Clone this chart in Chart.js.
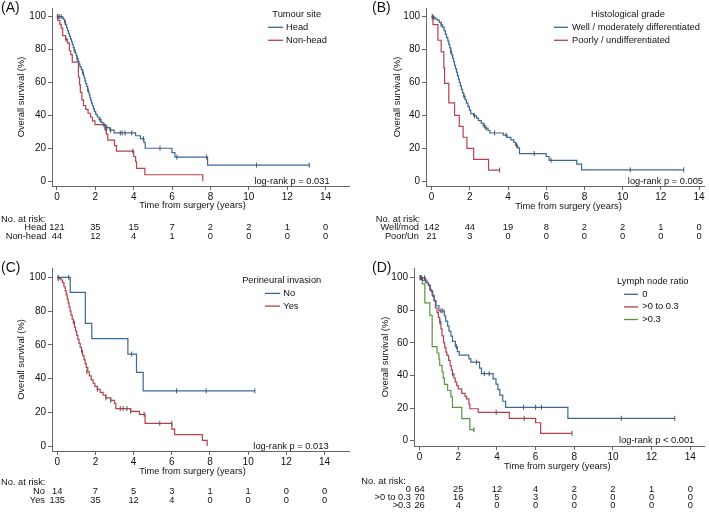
<!DOCTYPE html>
<html>
<head>
<meta charset="utf-8">
<script src="https://cdn.jsdelivr.net/npm/chart.js@4"></script>
<style>
  body { margin: 0; background: #fff; }
  #wrap { position: relative; width: 709px; height: 514px; }
  canvas { position: absolute; }
</style>
</head>
<body>
<div id="wrap">
  <canvas id="pA" width="354" height="255" style="left:0;top:0"></canvas>
  <canvas id="pB" width="355" height="255" style="left:354px;top:0"></canvas>
  <canvas id="pC" width="354" height="259" style="left:0;top:255px"></canvas>
  <canvas id="pD" width="355" height="259" style="left:354px;top:255px"></canvas>
</div>
<script>
// shared axis values
const years = [0, 2, 4, 6, 8, 10, 12, 14];
const survTicks = [0, 20, 40, 60, 80, 100];

// (A) tumour site
const aGroups = ['Head', 'Non-head'];
const aRiskLabels = ['Head', 'Non-head'];
const aHead = [[0,100],[0.3,99.2],[0.35,98.3],[0.4,96.7],[0.45,95],[0.5,93.3],[0.55,91.6],[0.6,89.9],[0.65,88.2],[0.7,86.5],[0.75,84.8],[0.8,83.1],[0.85,81.4],[0.9,79.7],[0.95,78],[1.0,76.3],[1.05,74.6],[1.1,72.9],[1.15,71.2],[1.2,69.5],[1.27,67.8],[1.33,66.1],[1.38,64.4],[1.42,62.7],[1.46,61],[1.5,59.3],[1.55,57.6],[1.6,55.9],[1.64,54.2],[1.68,52.5],[1.72,50.8],[1.76,49.1],[1.8,47.4],[1.85,45.7],[1.9,44],[1.95,42.3],[2.02,40.6],[2.1,39],[2.2,37.4],[2.3,35.8],[2.4,34.2],[2.55,32.6],[2.75,31],[2.98,29.3],[4.1,27.6],[4.35,25.9],[4.53,23.5],[4.6,20],[5.99,17.3],[6.15,14.6],[7.85,9.7],[13.15,9.7]];
const aHeadCens = [[0.05,100],[0.12,100],[0.22,100],[0.42,96.7],[0.9,79.7],[1.05,74.6],[1.35,66.1],[1.6,55.9],[2.25,37.4],[2.45,34.2],[2.6,32.6],[2.8,31],[3.3,29.3],[3.4,29.3],[3.55,29.3],[3.9,29.3],[4.5,25.9],[5.37,20],[6.25,14.6],[7.8,14.6],[10.4,9.7],[13.15,9.7]];
const aNonHead = [[0,100],[0.05,97.7],[0.15,95.4],[0.22,93.1],[0.3,88.5],[0.45,86.2],[0.55,83.9],[0.65,79.3],[0.72,77],[0.8,72.4],[1.12,63.2],[1.18,58.6],[1.22,54],[1.3,49.4],[1.38,45.9],[1.5,43.6],[1.62,41.3],[1.75,39],[1.85,36.7],[1.98,34.4],[2.5,31.5],[2.57,28.6],[2.65,24.9],[3.0,21.6],[3.1,18.3],[4.0,15],[4.1,11.8],[4.15,7.8],[4.58,3.9],[7.6,0]];
const aNonHeadCens = [[0.02,100],[0.47,86.2],[2.55,31.5],[3.95,18.3]];
const aRiskHead = [121, 35, 15, 7, 2, 2, 1, 0];
const aRiskNonHead = [44, 12, 4, 1, 0, 0, 0, 0];

// (B) histological grade
const bGroups = ['Well / moderately differentiated', 'Poorly / undifferentiated'];
const bRiskLabels = ['Well/mod', 'Poor/Un'];
const bWell = [[0,100],[0.1,99.3],[0.2,98.6],[0.3,97.9],[0.4,96.5],[0.5,95.1],[0.58,93.7],[0.65,91.5],[0.72,89.4],[0.78,87.3],[0.85,85.2],[0.9,83.1],[0.95,81],[1.0,78.9],[1.05,76.8],[1.1,74.7],[1.15,72.6],[1.2,70.5],[1.25,68.4],[1.3,66.3],[1.35,64.2],[1.4,62.1],[1.45,60],[1.5,57.9],[1.56,55.8],[1.62,53.7],[1.68,51.6],[1.75,49.5],[1.82,47.4],[1.9,45.3],[1.98,43.2],[2.05,41.1],[2.2,39.7],[2.35,38.3],[2.45,36.8],[2.6,35.3],[2.7,33.8],[2.8,32.3],[2.95,30.8],[3.05,29.3],[3.75,28],[3.95,26.6],[4.15,25.1],[4.3,23.6],[4.4,21.8],[4.5,20.2],[4.6,16.8],[6.0,15],[6.15,12.7],[7.6,10.4],[7.85,6.9],[13.2,6.9]];
const bWellCens = [[0.05,100],[0.12,99.3],[0.5,95.1],[1.0,78.9],[1.7,51.6],[2.25,39.7],[2.75,33.8],[2.85,32.3],[3.3,29.3],[3.9,28],[4.45,21.8],[5.37,16.8],[6.25,12.7],[10.4,6.9],[13.2,6.9]];
const bPoor = [[0,100],[0.07,95.2],[0.33,85.7],[0.5,78.6],[0.64,69],[0.68,59.5],[0.9,47.6],[1.2,40],[1.45,33.3],[1.65,26.7],[1.85,20],[2.2,13.3],[2.98,6.7],[3.56,6.7]];
const bPoorCens = [[0.03,100],[3.56,6.7]];
const bRiskWell = [142, 44, 19, 8, 2, 2, 1, 0];
const bRiskPoor = [21, 3, 0, 0, 0, 0, 0, 0];

// (C) perineural invasion
const cGroups = ['No', 'Yes'];
const cRiskLabels = ['No', 'Yes'];
const cNo = [[0,100],[0.68,91],[1.47,72.7],[1.81,63.6],[3.7,54.5],[4.15,43.6],[4.5,32.7],[10.35,32.7]];
const cNoCens = [[0.05,100],[0.6,100],[3.9,54.5],[6.25,32.7],[7.8,32.7],[10.35,32.7]];
const cYes = [[0,100],[0.1,99.2],[0.2,98.4],[0.28,96.8],[0.35,94.4],[0.42,92],[0.47,89.6],[0.52,87.2],[0.57,84.8],[0.62,82.4],[0.67,80],[0.72,77.6],[0.78,75.2],[0.84,72.8],[0.9,70.4],[0.96,68],[1.02,65.6],[1.08,63.2],[1.14,60.8],[1.2,58.4],[1.27,56],[1.33,53.6],[1.4,51.2],[1.46,48.8],[1.52,46.4],[1.6,44],[1.68,41.6],[1.78,39.2],[1.88,37.2],[1.97,35.4],[2.1,33.6],[2.25,31.8],[2.4,30.2],[2.55,28.5],[2.8,27],[3.0,25.2],[3.07,22.2],[3.85,20.5],[4.3,18.8],[4.6,13.4],[6.0,10],[6.15,6.7],[7.6,3.3],[7.85,0]];
const cYesCens = [[0.05,99.2],[0.9,72.8],[1.3,56],[1.55,44],[2.1,33.6],[2.55,28.5],[2.8,27],[3.3,22.2],[3.45,22.2],[3.65,22.2],[3.85,20.5],[4.55,18.8],[5.37,13.4],[6.0,13.4]];
const cRiskNo = [14, 7, 5, 3, 1, 1, 0, 0];
const cRiskYes = [135, 35, 12, 4, 0, 0, 0, 0];

// (D) lymph node ratio
const dGroups = ['0', '>0 to 0.3', '>0.3'];
const dRiskLabels = ['0', '>0 to 0.3', '>0.3'];
const dZero = [[0,100],[0.15,98.4],[0.3,96.9],[0.45,95.3],[0.55,92.2],[0.65,89.1],[0.75,85.9],[0.85,82.8],[1.0,79.7],[1.28,76.6],[1.35,73.4],[1.45,70.3],[1.52,67.2],[1.62,64.1],[1.7,60.9],[1.85,57.8],[1.95,54.7],[2.05,52.5],[2.55,50.2],[2.65,48.2],[3.1,44.5],[3.2,41.1],[3.8,37.9],[3.95,34.7],[4.05,31.5],[4.15,27.9],[4.3,24.2],[4.45,20.5],[7.67,13.7],[13.2,13.7]];
const dZeroCens = [[0.02,100],[0.1,100],[1.1,79.7],[1.2,79.7],[1.9,57.8],[2.95,48.2],[3.35,41.1],[3.6,41.1],[5.38,20.5],[6.0,20.5],[6.3,20.5],[10.43,13.7],[13.2,13.7]];
const dMid = [[0,100],[0.3,98.6],[0.38,97.1],[0.45,95.7],[0.52,92.9],[0.6,91.4],[0.68,88.6],[0.75,85.7],[0.82,81.4],[0.9,78.6],[0.97,75.7],[1.04,72.9],[1.1,68.6],[1.16,64.3],[1.24,60],[1.3,57.1],[1.36,54.3],[1.41,52.3],[1.5,49.3],[1.58,46.1],[1.64,43.4],[1.7,41],[1.78,38.4],[1.84,35.9],[1.92,33.8],[2.0,31.8],[2.18,29],[2.35,27.2],[2.43,25.6],[2.55,22.5],[2.6,19.6],[3.03,17.4],[4.64,13.7],[6.0,11],[6.26,4.5],[7.88,4.5]];
const dMidCens = [[0.05,100],[0.25,100],[1.05,72.9],[1.7,41],[3.96,17.4],[5.41,13.7],[7.88,4.5]];
const dHigh = [[0,100],[0.14,96.2],[0.27,84.6],[0.53,76.9],[0.65,57.7],[0.9,53.8],[1.0,50],[1.04,46.2],[1.16,42.3],[1.22,38.5],[1.28,34.6],[1.45,30.8],[1.62,26.9],[1.7,20.5],[2.18,13.5],[2.6,6.8],[2.81,6.8]];
const dHighCens = [[0.05,100],[2.81,6.8]];
const dRiskZero = [64, 25, 12, 4, 2, 2, 1, 0];
const dRiskMid = [70, 16, 5, 3, 0, 0, 0, 0];
const dRiskHigh = [26, 4, 0, 0, 0, 0, 0, 0];

const BLUE = '#3a6898', RED = '#b8404a', GREEN = '#5e9440';
const FONT = '"Liberation Sans", Arial, sans-serif';
const TXT = '9.3px ' + FONT;
Chart.defaults.font.family = FONT;
Chart.defaults.color = '#111';

const overlay = {
  id: 'overlay',
  afterDraw(chart, args, o) {
    const ctx = chart.ctx, xs = chart.scales.x, ys = chart.scales.y;
    ctx.save();
    ctx.fillStyle = '#111';
    ctx.textBaseline = 'middle';
    ctx.font = '14px ' + FONT;
    ctx.textAlign = 'left';
    ctx.fillText(o.letter, o.letterPos[0], o.letterPos[1]);

    ctx.font = TXT;
    // x axis title
    ctx.textAlign = 'center';
    ctx.fillText('Time from surgery (years)', o.xTitle[0], o.xTitle[1]);

    ctx.textAlign = 'right';
    ctx.fillText(o.logrank, xs.getPixelForValue(14) + 4, ys.getPixelForValue(0));

    // legend
    ctx.textAlign = 'center';
    ctx.fillText(o.legTitle, o.leg.cx, o.leg.y);
    o.names.forEach((n, i) => {
      const y = o.leg.y + o.leg.step * (i + 1);
      ctx.strokeStyle = o.colors[i];
      ctx.lineWidth = 1.3;
      ctx.beginPath();
      ctx.moveTo(o.leg.x0, y); ctx.lineTo(o.leg.x1, y);
      ctx.stroke();
      ctx.textAlign = 'left';
      ctx.fillText(n, o.leg.tx, y);
    });

    // risk table
    ctx.textAlign = 'left';
    ctx.fillText('No. at risk:', o.risk.x, o.risk.y);
    o.risk.rows.forEach((row, i) => {
      const y = o.risk.y + o.risk.step * (i + 1);
      ctx.textAlign = 'right';
      ctx.fillText(o.risk.labels[i], o.risk.labelRight, y);
      ctx.textAlign = 'center';
      row.forEach((v, j) => ctx.fillText(String(v), xs.getPixelForValue(years[j]), y));
    });
    ctx.restore();
  }
};

function pts(a) { return a.map(p => ({ x: p[0], y: p[1] })); }

function panel(id, g, curves, plug) {
  const datasets = [];
  curves.forEach(c => {
    datasets.push({ data: pts(c.data), borderColor: c.color, borderWidth: 1.2, stepped: 'before', pointRadius: 0, fill: false, order: 1 });
    datasets.push({ data: pts(c.cens), showLine: false, pointStyle: 'line', rotation: 90, pointRadius: 2.5, borderColor: '#555', borderWidth: 1, order: 0 });
  });
  plug.names = curves.map(c => c.name);
  plug.colors = curves.map(c => c.color);
  return new Chart(document.getElementById(id), {
    type: 'line',
    data: { datasets },
    plugins: [overlay],
    options: {
      responsive: false,
      animation: false,
      events: [],
      layout: { padding: g.pad },
      plugins: { legend: { display: false }, tooltip: { enabled: false }, overlay: plug },
      scales: {
        x: {
          type: 'linear', min: g.x[0], max: g.x[1],
          afterBuildTicks: s => { s.ticks = years.map(v => ({ value: v })); },
          afterFit: s => { s.height = g.xh; },
          border: { display: true, color: '#666', width: 1 },
          grid: { display: true, drawOnChartArea: false, drawTicks: true, tickLength: 4, color: '#666' },
          ticks: { font: { size: 10 }, padding: 1, maxRotation: 0, autoSkip: false, color: '#111' },
          title: { display: false }
        },
        y: {
          min: g.y[0], max: g.y[1],
          afterBuildTicks: s => { s.ticks = survTicks.map(v => ({ value: v })); },
          afterFit: s => { s.width = g.yw; },
          border: { display: true, color: '#666', width: 1 },
          grid: { display: true, drawOnChartArea: false, drawTicks: true, tickLength: 4, color: '#666' },
          ticks: { font: { size: 10 }, padding: 2, autoSkip: false, color: '#111' },
          title: { display: true, text: 'Overall survival (%)', font: { size: 9.3 }, padding: { top: g.ytp, bottom: 0 }, color: '#111' }
        }
      }
    }
  });
}

panel('pA',
  { pad: { top: 2, right: 2, bottom: 44, left: 0 }, x: [-0.258, 15.22], y: [-2.95, 105.3], yw: 52, xh: 25, ytp: 16 },
  [{ name: aGroups[0], data: aHead, cens: aHeadCens, color: BLUE },
   { name: aGroups[1], data: aNonHead, cens: aNonHeadCens, color: RED }],
  { letter: '(A)', letterPos: [1, 8], xTitle: [192.5, 205], logrank: 'log-rank p = 0.031', legTitle: 'Tumour site',
    leg: { cx: 296.7, y: 14.3, step: 13, x0: 268, x1: 283, tx: 286 },
    risk: { x: 1, y: 219, step: 8.5, labelRight: 46.5, labels: aRiskLabels, rows: [aRiskHead, aRiskNonHead] } });

panel('pB',
  { pad: { top: 2, right: 1, bottom: 43, left: 0 }, x: [-0.294, 14.26], y: [-2.94, 105.3], yw: 72, xh: 26, ytp: 37.6 },
  [{ name: bGroups[0], data: bWell, cens: bWellCens, color: BLUE },
   { name: bGroups[1], data: bPoor, cens: bPoorCens, color: RED }],
  { letter: '(B)', letterPos: [18, 8], xTitle: [214.5, 206], logrank: 'log-rank p = 0.005', legTitle: 'Histological grade',
    leg: { cx: 274, y: 14.3, step: 13, x0: 200, x1: 214, tx: 218 },
    risk: { x: 21.7, y: 219.3, step: 8.4, labelRight: 65, labels: bRiskLabels, rows: [bRiskWell, bRiskPoor] } });

panel('pC',
  { pad: { top: 13, right: 2, bottom: 37, left: 0 }, x: [-0.275, 15.28], y: [-2.96, 105.5], yw: 52, xh: 26, ytp: 16 },
  [{ name: cGroups[0], data: cNo, cens: cNoCens, color: BLUE },
   { name: cGroups[1], data: cYes, cens: cYesCens, color: RED }],
  { letter: '(C)', letterPos: [1, 13.3], xTitle: [192.5, 216], logrank: 'log-rank p = 0.013', legTitle: 'Perineural invasion',
    leg: { cx: 281.7, y: 25.7, step: 12.7, x0: 265, x1: 280, tx: 283.3 },
    risk: { x: 1, y: 227.7, step: 9, labelRight: 45, labels: cRiskLabels, rows: [cRiskNo, cRiskYes] } });

panel('pD',
  { pad: { top: 13, right: 1, bottom: 42, left: 0 }, x: [-0.29, 14.71], y: [-3.25, 105.95], yw: 60, xh: 26, ytp: 26 },
  [{ name: dGroups[0], data: dZero, cens: dZeroCens, color: BLUE },
   { name: dGroups[1], data: dMid, cens: dMidCens, color: RED },
   { name: dGroups[2], data: dHigh, cens: dHighCens, color: GREEN }],
  { letter: '(D)', letterPos: [18, 13.3], xTitle: [203.3, 211], logrank: 'log-rank p < 0.001', legTitle: 'Lymph node ratio',
    leg: { cx: 298.7, y: 26.7, step: 12.6, x0: 270, x1: 284, tx: 288.3 },
    risk: { x: 7.3, y: 226, step: 8.3, labelRight: 57, labels: dRiskLabels, rows: [dRiskZero, dRiskMid, dRiskHigh] } });
</script>
</body>
</html>
